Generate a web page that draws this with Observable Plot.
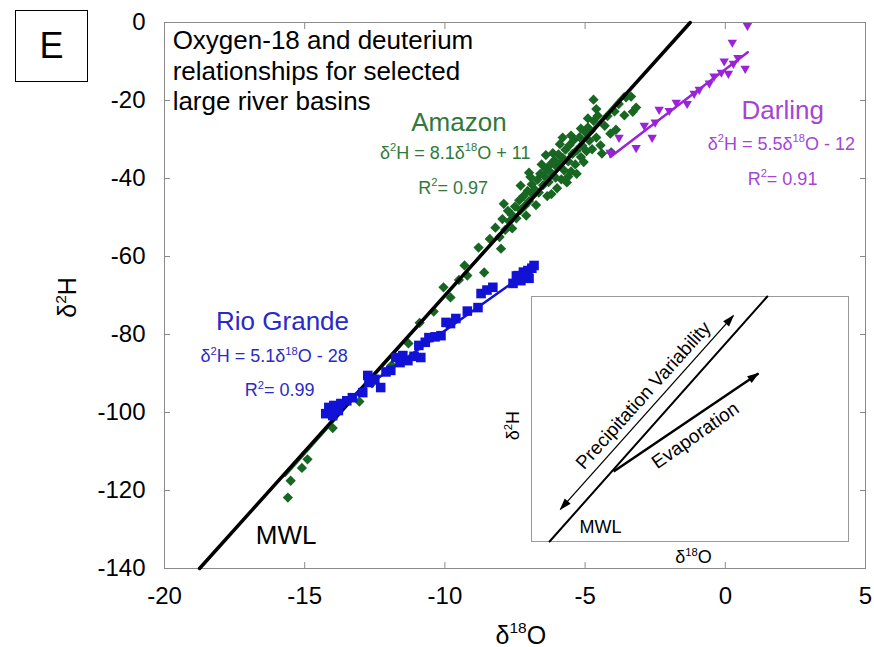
<!DOCTYPE html>
<html><head><meta charset="utf-8">
<script src="https://cdn.jsdelivr.net/npm/d3@7"></script>
<script src="https://cdn.jsdelivr.net/npm/@observablehq/plot@0.6"></script>
<style>
html,body{margin:0;padding:0;background:#fff;}
#wrap{position:relative;width:874px;height:647px;font-family:"Liberation Sans",Arial,sans-serif;}
#wrap svg{position:absolute;left:0;top:0;}
#panel{position:absolute;left:15px;top:10px;width:71px;height:70px;border:1.5px solid #000;font-size:36px;display:flex;align-items:center;justify-content:center;z-index:3;background:#fff;}
</style></head><body><div id="wrap"><div id="panel">E</div></div>
<script>
// ---------- data (δ18O, δ2H) ----------
const xTicks = [-20, -15, -10, -5, 0, 5];
const yTicks = [-140, -120, -100, -80, -60, -40, -20, 0];

const amazon = [
  [-15.6,-121.8],[-15.1,-114.2],[-15.5,-117.5],[-14.9,-112.0],[-14.0,-104.0],[-13.05,-97.2],
  [-12.6,-92.5],[-11.9,-87.9],[-11.3,-82.3],[-10.9,-77.0],[-10.4,-74.1],[-10.05,-67.9],
  [-9.8,-70.5],[-9.5,-66.0],[-9.3,-62.3],[-9.2,-64.9],[-8.6,-64.1],[-8.8,-57.7],
  [-8.4,-55.5],[-8.0,-58.0],[-8.2,-52.6],[-8.05,-55.0],[-7.95,-50.4],[-7.85,-53.2],
  [-7.9,-46.5],[-7.75,-48.3],[-7.7,-51.0],[-7.6,-52.8],[-7.6,-49.4],[-7.5,-47.2],
  [-7.45,-50.2],[-7.35,-45.6],[-7.3,-41.8],[-7.3,-48.1],[-7.2,-44.5],[-7.15,-47.0],
  [-7.1,-49.5],[-7.05,-43.2],[-7.0,-45.8],[-7.0,-38.5],[-6.95,-39.6],[-6.9,-41.5],
  [-6.85,-44.2],[-6.8,-42.8],[-6.75,-46.8],[-6.7,-40.3],[-6.65,-43.6],[-6.6,-38.8],
  [-6.55,-36.4],[-6.5,-41.7],[-6.45,-39.4],[-6.4,-37.6],[-6.4,-34.0],[-6.35,-44.5],
  [-6.3,-40.9],[-6.25,-36.5],[-6.2,-38.6],[-6.2,-44.0],[-6.15,-33.5],[-6.1,-35.3],
  [-6.05,-39.8],[-6.0,-37.1],[-6.0,-42.5],[-5.95,-33.8],[-5.9,-36.2],[-5.9,-31.2],
  [-5.85,-40.2],[-5.8,-34.7],[-5.8,-29.5],[-5.75,-37.9],[-5.7,-32.6],[-5.65,-41.0],
  [-5.6,-35.6],[-5.6,-39.5],[-5.55,-31.4],[-5.5,-38.2],[-5.5,-29.0],[-5.45,-33.7],
  [-5.4,-30.1],[-5.35,-36.4],[-5.3,-32.8],[-5.3,-38.8],[-5.2,-29.4],[-5.15,-34.5],
  [-5.15,-27.2],[-5.1,-31.6],[-5.05,-35.8],[-5.0,-28.1],[-4.95,-33.0],[-4.9,-26.9],
  [-4.9,-24.6],[-4.85,-30.3],[-4.8,-27.8],[-4.75,-32.5],[-4.7,-25.2],[-4.7,-19.8],
  [-4.6,-29.5],[-4.6,-22.2],[-4.55,-23.9],[-4.45,-31.5],[-4.4,-33.6],[-4.3,-26.5],
  [-4.2,-24.0],[-4.1,-28.5],[-4.07,-33.3],[-3.95,-22.8],[-3.9,-27.5],[-3.8,-20.9],
  [-3.6,-23.8],[-3.54,-19.2],[-3.36,-19.0],[-3.3,-22.9],[-3.18,-21.8]
];
const rioGrande = [
  [-14.25,-100.3],[-14.14,-98.7],[-13.96,-98.2],[-14.0,-100.8],[-13.8,-99.5],[-13.71,-97.7],
  [-13.5,-97.0],[-13.3,-96.2],[-12.93,-94.9],[-12.75,-90.5],[-12.71,-92.3],[-12.5,-91.5],
  [-12.29,-93.6],[-12.1,-89.6],[-11.93,-89.2],[-11.75,-85.9],[-11.6,-87.2],[-11.5,-85.4],
  [-11.32,-86.7],[-11.1,-85.6],[-10.86,-85.9],[-10.93,-82.8],[-10.7,-82.0],[-10.57,-80.8],
  [-10.35,-80.6],[-10.14,-80.3],[-9.96,-76.9],[-9.8,-77.2],[-9.61,-75.9],[-9.2,-74.0],
  [-8.82,-73.1],[-8.71,-69.5],[-8.5,-68.6],[-8.29,-67.9],[-7.57,-66.9],[-7.45,-65.0],
  [-7.39,-64.9],[-7.29,-66.2],[-7.2,-64.0],[-7.04,-63.6],[-7.0,-65.6],[-6.9,-63.0],[-6.82,-62.3]
];
const darling = [
  [0.79,-0.8],[0.25,-5.1],[-0.04,-9.9],[0.71,-11.8],[0.29,-10.5],[0.11,-13.1],
  [-0.14,-12.8],[0.45,-9.0],[-0.57,-15.6],[-0.93,-17.2],[-1.11,-18.2],[-1.36,-20.8],
  [-1.75,-20.5],[-2.0,-22.6],[-2.36,-22.3],[-2.89,-26.4],[-2.61,-29.5],[-3.18,-32.1],
  [-3.79,-29.5],[-4.11,-33.3],[-2.5,-25.6],[-0.4,-13.8]
];
// fitted lines (end points)
const mwlLine = [[-18.75,-140],[-1.25,0]];
const amazonFit = [[-15.7,-116.2],[-3.6,-18.2]];
const rioFit = [[-14.1,-99.9],[-6.8,-62.7]];
const darlingFit = [[-4.1,-34.5],[0.8,-7.6]];

// inset schematic (unitless 0–10 box)
const insetMwl = [[0.57,0],[7.44,10]];
const precipArrow = [[0.91,1.31,6.37,9.22]];
const evapArrow = [[2.59,2.86,7.16,6.86]];

const GREEN = "#176622", GREEN_T = "#2e7a3c";
const BLUE = "#1212d6", BLUE_T = "#2a2ac8";
const PURPLE = "#9a22d8", PURPLE_T = "#a444d8";
const FONT = "'Liberation Sans', Arial, sans-serif";

const P = d => ({x: d[0], y: d[1]});

function arrowHead(color) {
  const ns = "http://www.w3.org/2000/svg";
  const m = document.createElementNS(ns, "marker");
  m.setAttribute("viewBox", "-7 -5 14 10");
  m.setAttribute("markerWidth", "14");
  m.setAttribute("markerHeight", "10");
  m.setAttribute("markerUnits", "userSpaceOnUse");
  m.setAttribute("refX", "5");
  m.setAttribute("refY", "0");
  m.setAttribute("orient", "auto-start-reverse");
  const p = document.createElementNS(ns, "path");
  p.setAttribute("d", "M-6,-4L6,0L-6,4Z");
  p.setAttribute("fill", color);
  p.setAttribute("stroke", "none");
  m.appendChild(p);
  return m;
}

const txt = (x, y, text, opts) => Plot.text([0], {x: () => x, y: () => y, text: () => text, ...opts});

const main = Plot.plot({
  width: 874, height: 647,
  marginLeft: 164, marginRight: 9, marginTop: 22, marginBottom: 79,
  x: {domain: [-20, 5]},
  y: {domain: [-140, 0]},
  style: {fontFamily: FONT, fontSize: "24px", background: "transparent", overflow: "visible", color: "#000"},
  marks: [
    Plot.frame({stroke: "#8a8a8a"}),
    Plot.axisX({anchor: "bottom", ticks: xTicks, tickSize: 0, tickPadding: 18, tickFormat: d => `${d}`, label: null, fontSize: 24}),
    Plot.axisY({anchor: "left", ticks: yTicks, tickSize: 0, tickPadding: 19, tickFormat: d => `${d}`, label: null, fontSize: 24}),
    Plot.axisX({anchor: "bottom", ticks: xTicks, tickSize: -6, fill: "none", stroke: "#8a8a8a", label: null}),
    Plot.axisX({anchor: "top", ticks: xTicks, tickSize: -6, fill: "none", stroke: "#8a8a8a", label: null}),
    Plot.axisY({anchor: "left", ticks: yTicks, tickSize: -6, fill: "none", stroke: "#8a8a8a", label: null}),
    Plot.axisY({anchor: "right", ticks: yTicks, tickSize: -6, fill: "none", stroke: "#8a8a8a", label: null}),

    Plot.dot(amazon.map(P), {x: "x", y: "y", symbol: "square", rotate: 45, r: 4.1, fill: GREEN}),
    Plot.line(amazonFit.map(P), {x: "x", y: "y", stroke: GREEN, strokeWidth: 2.5}),
    Plot.line(mwlLine.map(P), {x: "x", y: "y", stroke: "#000", strokeWidth: 3.5}),
    Plot.dot(rioGrande.map(P), {x: "x", y: "y", symbol: "square", r: 5.4, fill: BLUE}),
    Plot.line(rioFit.map(P), {x: "x", y: "y", stroke: BLUE, strokeWidth: 2.5}),
    Plot.dot(darling.map(P), {x: "x", y: "y", symbol: "triangle", rotate: 180, r: 3.5, fill: PURPLE}),
    Plot.line(darlingFit.map(P), {x: "x", y: "y", stroke: PURPLE, strokeWidth: 2.5}),

    txt(-19.71, -1.28, "Oxygen-18 and deuterium\nrelationships for selected\nlarge river basins",
        {textAnchor: "start", lineAnchor: "top", lineHeight: 1.17, fontSize: 26, fill: "#000"}),
    txt(-9.5, -25.8, "Amazon", {fontSize: 26, fill: GREEN_T}),
    txt(-9.63, -33.4, "δ²H = 8.1δ¹⁸O + 11", {fontSize: 18, fill: GREEN_T}),
    txt(-9.71, -42.4, "R²= 0.97", {fontSize: 18, fill: GREEN_T}),
    txt(2.05, -22.5, "Darling", {fontSize: 26, fill: PURPLE_T}),
    txt(2.0, -31.1, "δ²H = 5.5δ¹⁸O - 12", {fontSize: 18, fill: PURPLE_T}),
    txt(2.04, -40.1, "R²= 0.91", {fontSize: 18, fill: PURPLE_T}),
    txt(-15.79, -76.6, "Rio Grande", {fontSize: 26, fill: BLUE_T}),
    txt(-16.09, -85.7, "δ²H = 5.1δ¹⁸O - 28", {fontSize: 18, fill: BLUE_T}),
    txt(-15.89, -94.4, "R²= 0.99", {fontSize: 18, fill: BLUE_T}),
    txt(-15.66, -131.7, "MWL", {fontSize: 26, fill: "#000"}),
    txt(-7.29, -157.2, "δ¹⁸O", {fontSize: 25, fill: "#000"}),
    txt(-23.43, -70.5, "δ²H", {fontSize: 25, fill: "#000", rotate: -90})
  ]
});

const inset = Plot.plot({
  width: 874, height: 647,
  marginLeft: 531, marginRight: 26, marginTop: 296, marginBottom: 106,
  x: {domain: [0, 10], axis: null},
  y: {domain: [0, 10], axis: null},
  style: {fontFamily: FONT, fontSize: "18px", background: "transparent", overflow: "visible", color: "#000"},
  marks: [
    Plot.frame({fill: "white", stroke: "#999"}),
    Plot.line(insetMwl.map(P), {x: "x", y: "y", stroke: "#000", strokeWidth: 2}),
    Plot.link(precipArrow, {x1: d => d[0], y1: d => d[1], x2: d => d[2], y2: d => d[3], stroke: "#000", strokeWidth: 1.3, markerStart: arrowHead, markerEnd: arrowHead}),
    Plot.link(evapArrow, {x1: d => d[0], y1: d => d[1], x2: d => d[2], y2: d => d[3], stroke: "#000", strokeWidth: 2.5, markerEnd: arrowHead}),
    txt(3.53, 5.96, "Precipitation Variability", {fontSize: 19, rotate: -48, fill: "#000"}),
    txt(5.17, 4.33, "Evaporation", {fontSize: 19, rotate: -35, fill: "#000"}),
    txt(2.18, 0.57, "MWL", {fontSize: 18, fill: "#000"}),
    txt(5.11, -0.65, "δ¹⁸O", {fontSize: 18, fill: "#000"}),
    txt(-0.57, 4.73, "δ²H", {fontSize: 18, rotate: -90, fill: "#000"})
  ]
});

const wrap = document.getElementById("wrap");
wrap.appendChild(main);
wrap.appendChild(inset);

// render Unicode superscripts as raised, smaller digits (after insertion so sizes are known)
const SUP = {"\u00B2": "2", "\u00B9": "1", "\u2078": "8"};
function raiseSuperscripts(svg) {
  const ns = "http://www.w3.org/2000/svg";
  svg.querySelectorAll("text").forEach(t => {
    const s = t.textContent;
    if (t.querySelector("tspan")) return;
    if (![...s].some(c => SUP[c])) return;
    const fs = parseFloat(getComputedStyle(t).fontSize) || 18;
    const runs = [];
    for (const c of s) {
      const sup = !!SUP[c];
      if (runs.length && runs[runs.length - 1].sup === sup) runs[runs.length - 1].s += sup ? SUP[c] : c;
      else runs.push({sup, s: sup ? SUP[c] : c});
    }
    while (t.firstChild) t.removeChild(t.firstChild);
    const shift = 0.42 * fs;
    runs.forEach((r, i) => {
      const ts = document.createElementNS(ns, "tspan");
      ts.textContent = r.s;
      if (r.sup) {
        ts.setAttribute("dy", String(-shift));
        ts.style.fontSize = (0.62 * fs) + "px";
      } else if (i > 0) {
        ts.setAttribute("dy", String(shift));
      }
      t.appendChild(ts);
    });
  });
}
raiseSuperscripts(main);
raiseSuperscripts(inset);
</script>
</body></html>
